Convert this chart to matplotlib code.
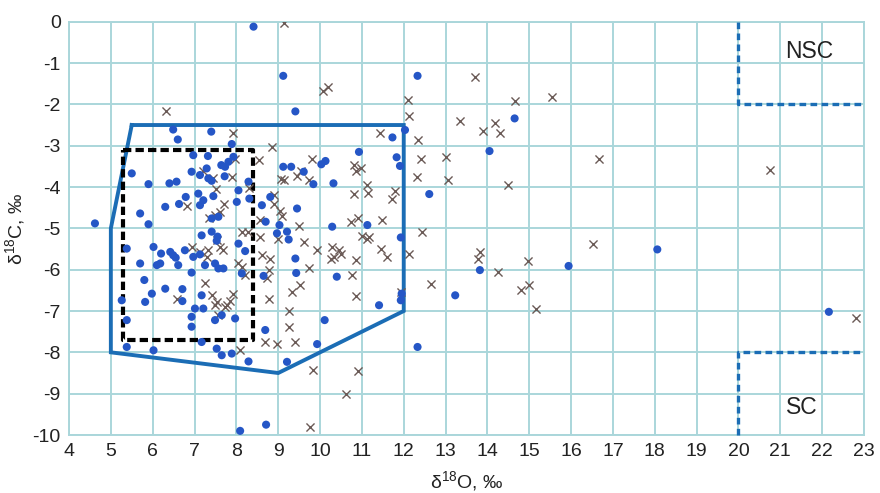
import matplotlib
matplotlib.use('Agg')
import matplotlib.pyplot as plt

plt.rcParams['font.family'] = ['Liberation Sans', 'DejaVu Sans']
plt.rcParams['axes.unicode_minus'] = False
plt.rcParams['mathtext.fontset'] = 'custom'
plt.rcParams['mathtext.rm'] = 'Liberation Sans'
plt.rcParams['mathtext.it'] = 'Liberation Sans:italic'
plt.rcParams['mathtext.bf'] = 'Liberation Sans:bold'

# samples plotted as filled circles (d18O, d13C)
circle_x = [8.41, 9.12, 9.41, 12.33, 14.65, 14.05, 12.61, 13.23, 13.82, 15.94, 18.06, 22.16, 8.09, 8.71, 4.62,
            6.49, 6.60, 7.40, 7.89, 6.97, 7.32,
            5.50, 5.90, 6.40, 6.57, 6.93, 7.13, 7.29, 7.33, 7.41,
            7.64, 7.73, 7.81, 7.93, 7.72,
            7.09, 7.21, 7.45, 6.79, 6.63, 6.30, 5.70, 5.90, 7.13, 8.05, 8.01, 8.29, 8.31, 7.57, 7.41, 7.41, 7.17, 7.55, 7.53,
            5.38, 6.02, 6.20, 6.42, 6.49, 6.55, 6.77, 6.97, 7.13, 6.10, 6.18, 5.70, 6.61, 7.25, 7.49, 7.57, 7.69, 8.05, 8.21,
            6.93, 5.80, 6.30, 6.71, 5.98, 5.82, 6.71, 5.26, 7.17, 7.01, 7.21, 6.93, 6.93, 7.65, 7.97, 5.38, 7.49, 7.17,
            5.38, 6.02, 7.53, 7.65, 7.89, 8.29, 8.69, 8.13, 8.65,
            8.81, 8.61, 8.70, 9.03, 9.12, 9.31, 9.61, 9.84, 10.03, 10.13, 10.32, 10.93, 11.73, 12.03, 11.83, 11.91,
            9.45, 10.29, 11.13, 11.93, 8.97, 9.21, 9.25, 9.41, 9.43, 10.40, 11.41, 11.93, 11.95, 9.93, 10.11, 9.21, 12.33]
circle_y = [-0.12, -1.31, -2.17, -1.31, -2.34, -3.13, -4.17, -6.62, -6.01, -5.91, -5.51, -7.02, -9.90, -9.75, -4.88,
            -2.61, -2.85, -2.66, -2.96, -3.23, -3.25,
            -3.67, -3.93, -3.91, -3.87, -3.63, -3.71, -3.55, -3.79, -3.85,
            -3.47, -3.51, -3.39, -3.27, -3.74,
            -4.16, -4.32, -4.22, -4.24, -4.41, -4.48, -4.64, -4.90, -4.44, -4.08, -4.36, -3.87, -4.28, -4.72, -4.76, -5.08, -5.17, -5.20, -5.30,
            -5.49, -5.45, -5.61, -5.57, -5.65, -5.71, -5.53, -5.69, -5.63, -5.89, -5.85, -5.85, -5.89, -5.89, -5.85, -5.97, -5.97, -5.37, -5.55,
            -6.07, -6.25, -6.46, -6.47, -6.58, -6.78, -6.76, -6.74, -6.62, -6.94, -6.94, -7.14, -7.38, -7.10, -7.18, -7.22, -7.22, -7.75,
            -7.87, -7.95, -7.91, -8.07, -8.03, -8.22, -7.46, -6.09, -6.15,
            -4.24, -4.44, -4.84, -4.92, -3.51, -3.51, -3.63, -3.93, -3.45, -3.37, -3.91, -3.15, -2.80, -2.62, -3.28, -3.49,
            -4.52, -4.96, -4.92, -5.22, -5.12, -5.08, -5.27, -5.73, -6.08, -6.17, -6.86, -6.74, -6.58, -7.80, -7.22, -8.23, -7.87]

# samples plotted as crosses
cross_x = [6.31, 9.13, 10.08, 10.18, 13.70, 12.09, 14.66, 15.54, 12.13, 13.34, 13.89, 14.18, 14.30, 12.33, 12.41,
           13.01, 16.66, 12.31, 13.06, 14.50, 12.43, 12.13, 13.83, 13.78, 14.97, 16.53, 14.26, 12.65, 14.81, 14.99,
           15.17, 20.76, 22.80, 10.61, 9.77, 9.83, 10.91,
           7.93, 8.85, 11.43,
           7.21, 7.45, 7.89, 7.97, 7.51, 6.81, 7.71, 7.35, 7.49, 7.61, 8.13, 8.27, 8.29, 8.55,
           6.93, 7.13, 7.29, 7.33, 7.53, 7.61, 7.69, 8.05, 8.13, 8.21, 7.25, 7.41, 7.53, 7.73, 7.85, 7.93, 7.55, 6.57,
           7.49, 7.77, 8.09, 8.57, 8.57,
           8.61, 8.81, 8.77, 8.73, 8.77, 8.89, 9.05, 9.09, 8.89, 9.07, 9.13, 9.45, 9.55, 9.73, 9.81, 10.81, 10.87,
           10.97, 10.81, 11.13, 11.15, 11.73, 11.79, 9.49, 10.73, 10.91, 11.49, 11.01, 11.17, 9.00, 9.61, 9.93, 10.29,
           10.45, 10.33, 10.25, 10.49, 10.85, 11.13, 11.45, 11.61, 9.73, 10.77, 9.53, 9.33, 10.85, 9.25, 9.25, 8.69,
           8.97, 9.39, 11.93]
cross_y = [-2.17, -0.02, -1.68, -1.59, -1.35, -1.90, -1.93, -1.83, -2.29, -2.41, -2.64, -2.45, -2.70, -2.86, -3.31,
           -3.27, -3.32, -3.75, -3.82, -3.95, -5.10, -5.62, -5.58, -5.73, -5.79, -5.37, -6.05, -6.35, -6.50, -6.38,
           -6.96, -3.59, -7.17, -9.02, -9.81, -8.43, -8.46,
           -2.70, -3.03, -2.69,
           -3.62, -3.78, -3.76, -3.31, -4.05, -4.45, -4.40, -4.76, -4.68, -4.60, -5.10, -5.08, -4.03, -3.35,
           -5.45, -5.57, -5.69, -5.53, -5.29, -5.45, -5.53, -5.85, -5.93, -6.13, -6.33, -6.62, -6.78, -6.90, -6.76, -6.58, -7.10, -6.70,
           -6.86, -6.86, -7.95, -4.80, -5.21,
           -5.65, -5.73, -6.01, -6.21, -6.71, -4.40, -4.58, -4.70, -4.20, -3.80, -3.83, -3.73, -3.61, -3.83, -3.31, -3.47, -3.61,
           -3.55, -4.18, -3.95, -4.14, -4.28, -4.09, -4.95, -4.84, -4.76, -4.79, -5.19, -5.22, -5.25, -5.33, -5.53, -5.45,
           -5.53, -5.69, -5.73, -5.61, -5.77, -5.25, -5.49, -5.69, -5.96, -6.13, -6.38, -6.55, -6.64, -7.01, -7.39, -7.76,
           -7.81, -7.75, -6.54]

# outlined field (solid) and inner box (dashed)
field_x = [5.5, 12.0, 12.0, 9.0, 5.0, 5.0, 5.5]
field_y = [-2.5, -2.5, -7.0, -8.5, -8.0, -5.0, -2.5]
box_x = [5.3, 8.4, 8.4, 5.3, 5.3]
box_y = [-3.1, -3.1, -7.7, -7.7, -3.1]

# NSC / SC boundaries
nsc_x = [20, 20, 23]
nsc_y = [0, -2, -2]
sc_x = [20, 20, 23]
sc_y = [-10, -8, -8]

x_ticks = list(range(4, 24))
y_ticks = list(range(-10, 1))

grid_c = '#aad6da'
line_c = '#1b6db5'

fig = plt.figure(figsize=(8.8, 4.93), dpi=100)
ax = fig.add_axes([69 / 880, 1 - 435 / 493, 795 / 880, (435 - 21.7) / 493])

ax.set_xlim(4, 23)
ax.set_ylim(-10, 0)
ax.set_xticks(x_ticks)
ax.set_yticks(y_ticks)
ax.tick_params(length=0, labelsize=14, colors='#222222', pad=6)
ax.grid(True, color=grid_c, linewidth=1.4)
ax.set_axisbelow(True)
for s in ax.spines.values():
    s.set_color(grid_c)
    s.set_linewidth(1.4)

ax.plot(field_x, field_y, color=line_c, linewidth=2.8, solid_joinstyle='miter', zorder=3)
ax.plot(box_x, box_y, color='black', linewidth=3, linestyle=(0, (2, 1)), zorder=4)
ax.plot(nsc_x, nsc_y, color=line_c, linewidth=2.4, linestyle=(0, (2, 1.3)), clip_on=False, zorder=3)
ax.plot(sc_x, sc_y, color=line_c, linewidth=2.4, linestyle=(0, (2, 1.3)), clip_on=False, zorder=3)

ax.scatter(cross_x, cross_y, marker='x', s=34, color='#6a5a56', linewidths=1.0, zorder=5)
ax.scatter(circle_x, circle_y, marker='o', s=34, color='#2556c6', edgecolors='none', zorder=6)

ax.text(21.68, -0.73, 'NSC', fontsize=16.5, ha='center', va='center', color='#222222')
ax.text(21.52, -9.33, 'SC', fontsize=16.5, ha='center', va='center', color='#222222')

ax.set_xlabel(r'δ$^{18}$O, ‰', fontsize=14, color='#222222', labelpad=6)
ax.set_ylabel(r'δ$^{18}$C, ‰', fontsize=14, color='#222222', labelpad=4)

fig.savefig('out.png', dpi=100)
